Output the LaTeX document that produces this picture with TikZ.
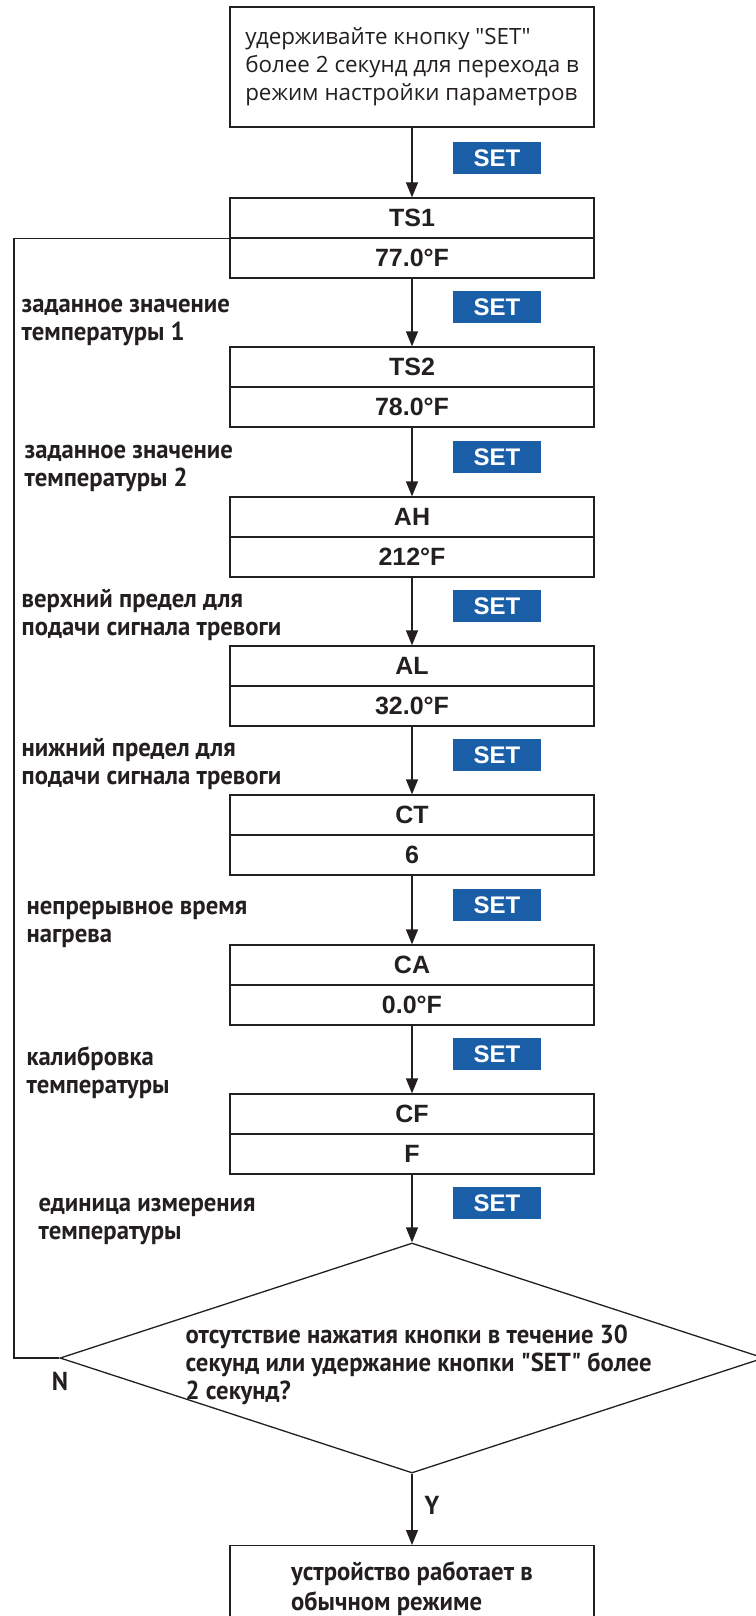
\documentclass[tikz,border=0pt]{standalone}
\usepackage{fontspec}
\usetikzlibrary{arrows.meta}
\usetikzlibrary{shapes.geometric}
\newfontfamily\topfont{Open Sans}
\newfontfamily\notefont[FakeStretch=0.95]{PT Sans}
\newfontfamily\parfont{Liberation Sans}
\definecolor{setblue}{RGB}{27,94,168}
\definecolor{ink}{RGB}{35,31,32}

\begin{document}
\begin{tikzpicture}[x=1pt,y=-1pt,color=ink,line width=1.3pt,
  arr/.style={-{Triangle[length=15pt,width=12pt]}},
  par/.style={draw,minimum width=364,minimum height=40,inner sep=0,
    font=\parfont\bfseries\fontsize{25}{26}\selectfont},
  setbtn/.style={fill=setblue,text=white,minimum width=88,minimum height=32,inner sep=0,
    font=\parfont\bfseries\fontsize{24}{26}\selectfont},
  note/.style={anchor=west,align=left,inner sep=0,
    font=\notefont\bfseries\fontsize{26}{28}\selectfont}]
\useasboundingbox (0,0) rectangle (755,1616);
\node [draw,minimum width=364,minimum height=120,align=left,inner sep=0,
  font=\topfont\fontsize{22.4}{28}\selectfont] (start) at (412,67)
  {удерживайте кнопку "SET"\\более 2 секунд для перехода в\\режим настройки параметров};
% parameter boxes
\node [par] (ts1) at (412,218) {TS1};
\node [par] (ts1v) at (412,258) {77.0°F};
\node [par] (ts2) at (412,367) {TS2};
\node [par] (ts2v) at (412,407) {78.0°F};
\node [par] (ah) at (412,517) {AH};
\node [par] (ahv) at (412,557) {212°F};
\node [par] (al) at (412,666) {AL};
\node [par] (alv) at (412,706) {32.0°F};
\node [par] (ct) at (412,815) {CT};
\node [par] (ctv) at (412,855) {6};
\node [par] (ca) at (412,965) {CA};
\node [par] (cav) at (412,1005) {0.0°F};
\node [par] (cf) at (412,1114) {CF};
\node [par] (cfv) at (412,1154) {F};
% SET keys
\node [setbtn] (set1) at (497,158) {SET};
\node [setbtn] (set2) at (497,307) {SET};
\node [setbtn] (set3) at (497,457) {SET};
\node [setbtn] (set4) at (497,606) {SET};
\node [setbtn] (set5) at (497,755) {SET};
\node [setbtn] (set6) at (497,905) {SET};
\node [setbtn] (set7) at (497,1054) {SET};
\node [setbtn] (set8) at (497,1203) {SET};
% notes
\node [note] (n1) at (21,322) {заданное значение\\температуры 1};
\node [note] (n2) at (24,468) {заданное значение\\температуры 2};
\node [note] (n3) at (21,615) {верхний предел для\\подачи сигнала тревоги};
\node [note] (n4) at (21,764) {нижний предел для\\подачи сигнала тревоги};
\node [note] (n5) at (26,924) {непрерывное время\\нагрева};
\node [note] (n6) at (26,1073) {калибровка\\температуры};
\node [note] (n7) at (38,1221) {единица измерения\\температуры};
% decision
\node [draw,shape=diamond,minimum width=704,minimum height=230,inner sep=0] (ask) at (412,1358) {};
\node [note] (asktext) at (185,1365)
  {отсутствие нажатия кнопки в течение 30\\секунд или удержание кнопки "SET" более\\2 секунд?};
\node [note,anchor=center] (nmark) at (60,1381) {N};
\node [draw,minimum width=364,minimum height=86,anchor=north,align=left,inner sep=0,
  font=\notefont\bfseries\fontsize{26}{30}\selectfont] (done) at (412,1545)
  {устройство работает в\\обычном режиме};
\coordinate (back) at (14,1358);
% arrows
\draw [arr] (start) -- (ts1);
\draw [arr] (ts1v) -- (ts2);
\draw [arr] (ts2v) -- (ah);
\draw [arr] (ahv) -- (al);
\draw [arr] (alv) -- (ct);
\draw [arr] (ctv) -- (ca);
\draw [arr] (cav) -- (cf);
\draw [arr] (cfv) -- (ask);
\draw [arr] (ask) -- node [note,anchor=center,xshift=20,yshift=4] {Y} (done);
\draw (ask.west) -- (back) |- (ts1.south west);
\end{tikzpicture}
\end{document}
